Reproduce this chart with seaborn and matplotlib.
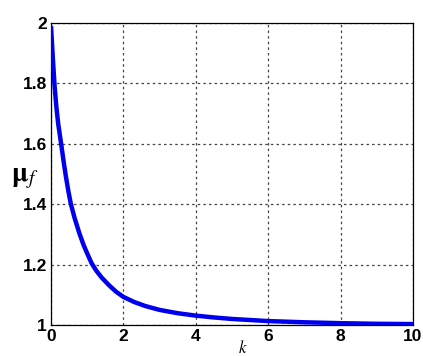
import matplotlib
matplotlib.use("Agg")
import matplotlib.pyplot as plt
import seaborn as sns
import pandas as pd

# values
k_values = [0.0, 0.05, 0.1, 0.15, 0.2, 0.28, 0.35, 0.41, 0.48, 0.55, 0.65, 0.78, 0.9, 1.0,
            1.12, 1.25, 1.4, 1.6, 1.8, 2.0, 2.3, 2.6, 3.0, 3.5, 4.0, 4.5, 5.0, 6.0, 7.0,
            8.0, 9.0, 10.0]
mu_values = [1.99, 1.885, 1.79, 1.72, 1.665, 1.60, 1.54, 1.493, 1.443, 1.40, 1.355, 1.305,
             1.265, 1.237, 1.205, 1.18, 1.157, 1.132, 1.11, 1.093, 1.076, 1.063, 1.05,
             1.039, 1.031, 1.025, 1.02, 1.013, 1.009, 1.006, 1.004, 1.003]
x_ticks = [0, 2, 4, 6, 8, 10]
y_ticks = [1, 1.2, 1.4, 1.6, 1.8, 2]
y_tick_labels = ["1", "1.2", "1.4", "1.6", "1.8", "2"]

df = pd.DataFrame({"k": k_values, "mu": mu_values})

sns.set_style("white")
plt.rcParams["font.family"] = ["Liberation Sans", "DejaVu Sans"]
plt.rcParams["mathtext.fontset"] = "stix"
plt.rcParams["text.color"] = "black"
plt.rcParams["xtick.color"] = "black"
plt.rcParams["ytick.color"] = "black"
plt.rcParams["axes.labelcolor"] = "black"

fig = plt.figure(figsize=(4.23, 3.56), dpi=100)
ax = fig.add_axes([51 / 423, 1 - 325 / 356, 362 / 423, 302 / 356])

sns.lineplot(data=df, x="k", y="mu", ax=ax, color="#0000ee", linewidth=3.2,
             solid_capstyle="butt", zorder=3)

ax.set_xlim(0, 10)
ax.set_ylim(1, 2)
ax.set_xticks(x_ticks)
ax.set_yticks(y_ticks)
ax.set_xticklabels([str(t) for t in x_ticks], fontsize=12.5, fontweight="bold")
ax.set_yticklabels(y_tick_labels, fontsize=12.5, fontweight="bold")
ax.tick_params(axis="both", direction="in", length=3, width=0.8, colors="black", pad=3)

ax.grid(True, color="#444444", linestyle=(0, (2, 2.5)), linewidth=0.9)
for s in ax.spines.values():
    s.set_visible(True)
    s.set_color("black")
    s.set_linewidth(0.9)

ax.set_xlabel(r"$k$", fontsize=12)
ax.xaxis.set_label_coords(0.53, -0.047)
ax.set_ylabel(r"$\mathbf{\mu}_f$", fontsize=20, rotation=0)
ax.yaxis.set_label_coords(-0.072, 0.445)

fig.savefig("out.png", dpi=100)
